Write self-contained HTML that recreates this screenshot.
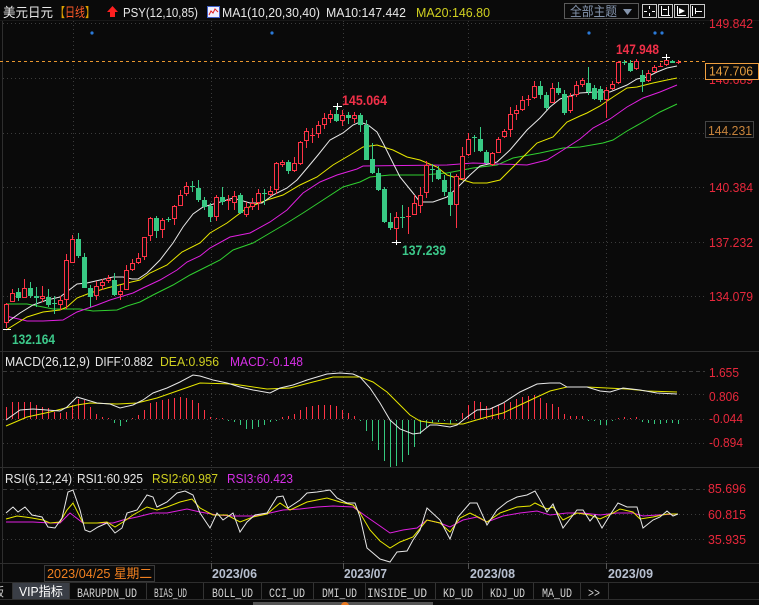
<!DOCTYPE html>
<html><head><meta charset="utf-8"><style>
html,body{margin:0;padding:0;background:#0a0a0a;overflow:hidden;}
svg{display:block;}
text{font-family:"Liberation Sans","Noto Sans CJK SC",sans-serif;}
.mono{font-family:"Liberation Mono","Noto Sans CJK SC",monospace;}
</style></head><body>
<svg width="759" height="605" viewBox="0 0 759 605" xmlns="http://www.w3.org/2000/svg">
<rect width="759" height="605" fill="#0a0a0a"/>

<!-- header -->
<line x1="0" y1="20.5" x2="759" y2="20.5" stroke="#181818"/>
<text x="3" y="17" font-size="13" fill="#e8e8e8" textLength="50" lengthAdjust="spacingAndGlyphs">美元日元</text>
<text x="55" y="17" font-size="13" textLength="40" lengthAdjust="spacingAndGlyphs"><tspan fill="#e0a000">【</tspan><tspan fill="#ff5a28">日线</tspan><tspan fill="#e0a000">】</tspan></text>
<polygon points="112.5,6 118,12 115,12 115,17 110,17 110,12 107,12" fill="#ff2020"/>
<text x="123" y="17" font-size="13" fill="#e8e8e8" textLength="75" lengthAdjust="spacingAndGlyphs">PSY(12,10,85)</text>
<rect x="207.5" y="6.5" width="12" height="11" fill="#f0f0ff" stroke="#4060c8"/>
<polyline points="209,15 211,11 213,13 215,9 218,12" fill="none" stroke="#e02020"/>
<text x="222" y="17" font-size="13" fill="#e8e8e8" textLength="98" lengthAdjust="spacingAndGlyphs">MA1(10,20,30,40)</text>
<text x="326" y="17" font-size="13" fill="#e8e8e8" textLength="80" lengthAdjust="spacingAndGlyphs">MA10:147.442</text>
<text x="416" y="17" font-size="13" fill="#d0d020" textLength="74" lengthAdjust="spacingAndGlyphs">MA20:146.80</text>

<rect x="564.5" y="3.5" width="74" height="15" fill="none" stroke="#5a5a5a"/>
<text x="570" y="16" font-size="13" fill="#8494ac" textLength="47" lengthAdjust="spacingAndGlyphs">全部主题</text>
<polygon points="623,9 632,9 627.5,15" fill="#8494ac"/>
<g fill="none" stroke="#c8c8c8">
<rect x="642.5" y="4.5" width="14" height="13"/>
<rect x="658.5" y="4.5" width="14" height="13"/>
<rect x="674.5" y="4.5" width="14" height="13"/>
<rect x="690.5" y="4.5" width="14" height="13"/>
</g>
<g stroke="#ffffff" fill="none">
<path d="M649.5 6v3M649.5 13v3M644 11.5h3M652 11.5h3"/>
<path d="M661.5 6v10M668.5 6v10M661 15.5h9M663 9.5h4"/>
<path d="M677.5 6v10M677 15.5h9"/>
<path d="M692.5 6v10M695.5 8v6M695 11.5h7"/>
</g>
<polygon points="679,8 685,11 679,14" fill="#ffffff"/>

<!-- grid -->
<g stroke="#3c3c3c" stroke-dasharray="1 3" fill="none">
<path d="M3 23.5H705M3 78.5H705M3 133.5H705M3 187.5H705M3 242.5H705M3 296.5H705"/>
<path d="M3 394.5H705M3 419.5H705M3 443.5H705"/>
<path d="M3 514.5H705M3 539.5H705"/>
<path d="M73.5 21V563M211.5 21V563M343.5 21V563M468.5 21V563M606.5 21V563"/>
</g>
<g stroke="#3a3a3a" stroke-dasharray="4 3" fill="none">
<path d="M3 371.5H705M3 489.5H705"/>
</g>

<!-- separators -->
<g stroke="#2e2e2e" fill="none">
<path d="M0 351.5H759M0 467.5H759M0 563.5H759M0 582.5H759M0 599.5H759"/>
<path d="M2.5 21V582"/>
</g>

<!-- last price dashed line -->
<path d="M0 61.5H705" stroke="#e8962e" stroke-dasharray="3 3"/>

<!-- MA lines -->
<g fill="none" stroke-width="1">
<polyline stroke="#30d030" points="6,304 27,304 43,307 53,309 80,309 93,311 117,310 127,306 140,302 153,295 173,285 190,275 200,270 220,260 233,250 253,243 270,233 287,223 303,213 323,200 343,187 360,182 370,177 390,175 423,175 447,173 473,168 497,165 513,158 540,153 563,148 580,147 603,143 613,140 627,131 643,122 660,112 677,104"/>
<polyline stroke="#e020e0" points="6,316 27,321 43,321 63,320 77,312 97,305 110,300 133,293 143,288 160,280 177,270 187,262 200,256 210,248 230,237 250,233 270,222 287,210 303,193 320,182 337,175 357,169 363,166 447,165 473,163 527,165 547,160 563,150 580,139 593,128 610,119 627,107 643,98 660,92 677,85"/>
<polyline stroke="#e8e800" points="6,330 27,317 43,312 60,310 67,307 77,298 90,293 107,288 127,283 140,280 150,273 167,265 182,252 200,243 210,233 227,223 247,208 267,200 283,195 300,185 317,177 333,165 350,155 363,147 377,145 393,150 407,157 420,160 437,167 447,175 460,179 473,183 487,183 500,180 510,170 523,157 537,143 553,137 567,122 580,116 587,113 600,106 613,97 627,88 637,87 653,83 667,80 677,78"/>
<polyline stroke="#e8e8e8" points="6,323 20,313 33,305 47,300 60,297 77,284 87,283 100,280 113,277 123,277 132,279 138,279 147,273 160,260 173,243 183,227 193,214 203,207 217,203 233,198 250,203 262,203 273,195 287,188 297,180 308,167 318,155 330,140 343,133 353,125 360,122 368,125 377,132 384,145 390,157 400,177 413,193 420,202 433,202 447,197 457,188 470,175 480,166 497,162 510,150 527,130 540,118 550,107 560,99 580,93 595,92 610,92 627,85 637,79 647,77 657,72 667,68 677,66"/>
</g>

<!-- candles -->
<path fill="none" stroke="#ff3346" d="M6.5 303V328M12.5 289V302M24.5 279V298M42.5 286V302M60.5 296V310M66.5 254V309M72.5 235V263M96.5 281V300M102.5 279V290M108.5 275V283M120.5 285V300M126.5 265V290M132.5 259V271M138.5 253V264M144.5 237V260M150.5 217V241M162.5 218V238M174.5 205V225M180.5 190V206M186.5 182V196M216.5 195V221M228.5 195V210M234.5 191V210M246.5 202V217M252.5 198V210M258.5 189V210M270.5 186V196M276.5 162V194M282.5 160V167M294.5 157V172M300.5 141V165M306.5 128V148M312.5 128V143M318.5 121V138M324.5 113V129M330.5 110V123M342.5 110V126M354.5 112V123M396.5 212V241M408.5 207V234M414.5 195V215M420.5 187V213M426.5 161V198M456.5 174V228M462.5 147V180M468.5 133V156M492.5 152V166M498.5 137V153M504.5 129V138M510.5 107V137M516.5 105V120M522.5 96V111M528.5 95V106M534.5 81V99M552.5 83V103M570.5 93V113M576.5 81V97M582.5 78V87M606.5 87V118M612.5 81V90M618.5 61V84M636.5 59V70M648.5 70V82M654.5 65V73M660.5 63V67M666.5 57V66M678.5 60V64"/>
<path fill="#0a0a0a" stroke="#ff3346" d="M4.5 304.5h4v18h-4zM10.5 293.5h4v8h-4zM22.5 288.5h4v9h-4zM40.5 296.5h4v2h-4zM58.5 300.5h4v4h-4zM64.5 260.5h4v39h-4zM70.5 239.5h4v23h-4zM94.5 286.5h4v9h-4zM100.5 282.5h4v3h-4zM106.5 278.5h4v2h-4zM118.5 291.5h4v3h-4zM124.5 270.5h4v19h-4zM130.5 263.5h4v6h-4zM136.5 258.5h4v4h-4zM142.5 237.5h4v19h-4zM148.5 218.5h4v17h-4zM160.5 220.5h4v9h-4zM172.5 206.5h4v12h-4zM178.5 195.5h4v10h-4zM184.5 186.5h4v7h-4zM214.5 197.5h4v19h-4zM232.5 196.5h4v6h-4zM244.5 207.5h4v7h-4zM250.5 203.5h4v3h-4zM256.5 193.5h4v9h-4zM268.5 191.5h4v3h-4zM274.5 163.5h4v26h-4zM280.5 162.5h4v2h-4zM292.5 163.5h4v7h-4zM298.5 142.5h4v21h-4zM304.5 131.5h4v9h-4zM316.5 125.5h4v8h-4zM322.5 118.5h4v6h-4zM328.5 114.5h4v4h-4zM340.5 115.5h4v5h-4zM352.5 115.5h4v3h-4zM394.5 217.5h4v11h-4zM412.5 203.5h4v11h-4zM418.5 195.5h4v10h-4zM424.5 165.5h4v27h-4zM454.5 176.5h4v28h-4zM460.5 156.5h4v22h-4zM466.5 139.5h4v15h-4zM490.5 153.5h4v11h-4zM496.5 139.5h4v13h-4zM502.5 131.5h4v5h-4zM508.5 114.5h4v15h-4zM514.5 110.5h4v3h-4zM520.5 100.5h4v9h-4zM532.5 86.5h4v11h-4zM550.5 88.5h4v14h-4zM568.5 96.5h4v14h-4zM574.5 85.5h4v9h-4zM580.5 80.5h4v4h-4zM604.5 90.5h4v9h-4zM610.5 84.5h4v4h-4zM616.5 62.5h4v20h-4zM634.5 61.5h4v7h-4zM646.5 73.5h4v7h-4zM652.5 67.5h4v4h-4zM664.5 60.5h4v4h-4z"/>
<path fill="none" stroke="#ff3346" d="M226 200.5h5M310 135.5h5M406 216.5h5M526 99.5h5M658 66.5h5M676 62.5h5"/>
<path fill="none" stroke="#38c984" d="M18.5 288V301M30.5 282V298M36.5 287V307M48.5 289V307M54.5 296V314M78.5 233V258M84.5 253V288M90.5 285V307M114.5 273V296M156.5 216V238M168.5 217V222M192.5 181V192M198.5 180V202M204.5 197V210M210.5 203V222M222.5 187V205M240.5 193V214M264.5 189V205M288.5 160V174M336.5 106V122M348.5 112V124M360.5 113V132M366.5 120V160M372.5 143V174M378.5 168V191M384.5 187V223M390.5 213V230M402.5 205V228M432.5 164V182M438.5 166V180M444.5 175V196M450.5 173V216M474.5 135V152M480.5 127V152M486.5 150V164M540.5 81V99M546.5 92V110M558.5 82V95M564.5 90V115M588.5 67V95M594.5 85V100M600.5 86V102M624.5 60V65M630.5 60V72M642.5 70V92M672.5 60V63M52 303.5h5M166 219.5h5M190 186.5h5M262 193.5h5M400 217.5h5M430 169.5h5M472 137.5h5M622 62.5h5"/>
<path fill="#38c984" d="M16 292h5v6h-5zM28 288h5v8h-5zM34 296h5v2h-5zM46 297h5v8h-5zM76 239h5v17h-5zM82 257h5v31h-5zM88 288h5v9h-5zM112 280h5v15h-5zM154 218h5v13h-5zM196 188h5v12h-5zM202 200h5v7h-5zM208 206h5v11h-5zM220 197h5v5h-5zM238 195h5v18h-5zM286 162h5v9h-5zM334 114h5v7h-5zM346 115h5v3h-5zM358 115h5v10h-5zM364 125h5v35h-5zM370 159h5v14h-5zM376 173h5v17h-5zM382 189h5v33h-5zM388 222h5v6h-5zM436 170h5v9h-5zM442 180h5v12h-5zM448 192h5v13h-5zM478 139h5v12h-5zM484 152h5v11h-5zM538 86h5v9h-5zM544 95h5v13h-5zM556 88h5v5h-5zM562 94h5v19h-5zM586 83h5v9h-5zM592 88h5v11h-5zM598 89h5v11h-5zM628 63h5v8h-5zM640 75h5v7h-5zM670 61h5v2h-5z"/>

<!-- high/low markers -->
<g stroke="#ffffff" fill="none">
<path d="M333 106.5h9M337.5 103v7"/>
<path d="M392 242.5h9M396.5 240v5"/>
<path d="M3 329.5h8"/>
<path d="M662 57.5h8M666.5 54v6"/>
</g>
<text x="342" y="105" font-size="14" font-weight="bold" fill="#f03048" textLength="45" lengthAdjust="spacingAndGlyphs">145.064</text>
<text x="402" y="255" font-size="14" font-weight="bold" fill="#3cc88a" textLength="44" lengthAdjust="spacingAndGlyphs">137.239</text>
<text x="12" y="344" font-size="14" font-weight="bold" fill="#3cc88a" textLength="43" lengthAdjust="spacingAndGlyphs">132.164</text>
<text x="616" y="54" font-size="14" font-weight="bold" fill="#f03048" textLength="43" lengthAdjust="spacingAndGlyphs">147.948</text>

<!-- blue dots -->
<g fill="#2b7ad8">
<circle cx="92" cy="33" r="1.6"/><circle cx="272" cy="33" r="1.6"/><circle cx="589" cy="33" r="1.6"/><circle cx="655" cy="33" r="1.6"/><circle cx="662" cy="33" r="1.6"/>
</g>

<!-- right axis main -->
<g font-size="13" fill="#e8283c">
<text x="709" y="28" textLength="44" lengthAdjust="spacingAndGlyphs">149.842</text>
<text x="709" y="84" textLength="44" lengthAdjust="spacingAndGlyphs">146.689</text>
<text x="709" y="192" textLength="44" lengthAdjust="spacingAndGlyphs">140.384</text>
<text x="709" y="247" textLength="44" lengthAdjust="spacingAndGlyphs">137.232</text>
<text x="709" y="301" textLength="44" lengthAdjust="spacingAndGlyphs">134.079</text>
</g>
<rect x="705.5" y="63.5" width="53" height="16" fill="#0a0a0a" stroke="#f0a040"/>
<text x="709" y="75.5" font-size="13" fill="#e8a040" textLength="44" lengthAdjust="spacingAndGlyphs">147.706</text>
<rect x="705.5" y="121.5" width="48" height="16" fill="#0a0a0a" stroke="#444"/>
<text x="708" y="135" font-size="13" fill="#c8843c" textLength="44" lengthAdjust="spacingAndGlyphs">144.231</text>

<!-- MACD panel -->
<text x="5" y="366" font-size="13" fill="#e8e8e8" textLength="85" lengthAdjust="spacingAndGlyphs">MACD(26,12,9)</text>
<text x="95" y="366" font-size="13" fill="#e8e8e8" textLength="58" lengthAdjust="spacingAndGlyphs">DIFF:0.882</text>
<text x="160" y="366" font-size="13" fill="#d0d020" textLength="59" lengthAdjust="spacingAndGlyphs">DEA:0.956</text>
<text x="230" y="366" font-size="13" fill="#d830e8" textLength="73" lengthAdjust="spacingAndGlyphs">MACD:-0.148</text>

<path fill="none" stroke="#ff3346" d="M6.5 419V407M12.5 419V402M18.5 419V402M24.5 419V402M30.5 419V402M36.5 419V405M42.5 419V407M48.5 419V408M54.5 419V412M60.5 419V413M66.5 419V412M72.5 419V405M78.5 419V399M84.5 419V400M90.5 419V407M96.5 419V414M102.5 419V417M108.5 419V418M132.5 419V418M138.5 419V415M144.5 419V410M150.5 419V403M156.5 419V402M162.5 419V400M168.5 419V399M174.5 419V398M180.5 419V397M186.5 419V398M192.5 419V400M198.5 419V403M204.5 419V410M210.5 419V417M216.5 419V418M222.5 419V418M282.5 419V417M288.5 419V416M294.5 419V414M300.5 419V410M306.5 419V407M312.5 419V406M318.5 419V405M324.5 419V405M330.5 419V405M336.5 419V406M342.5 419V410M348.5 419V413M354.5 419V416M462.5 419V413M468.5 419V405M474.5 419V401M480.5 419V402M486.5 419V406M492.5 419V407M498.5 419V405M504.5 419V403M510.5 419V402M516.5 419V399M522.5 419V397M528.5 419V396M534.5 419V395M540.5 419V398M546.5 419V403M552.5 419V404M558.5 419V407M564.5 419V414M570.5 419V416M576.5 419V416M582.5 419V416M618.5 419V418M624.5 419V417M630.5 419V418M636.5 419V417"/>
<path fill="none" stroke="#35c97f" d="M114.5 420V423M120.5 420V426M126.5 420V422M228.5 420V421M234.5 420V422M240.5 420V425M246.5 420V429M252.5 420V429M258.5 420V427M264.5 420V425M270.5 420V422M276.5 420V421M360.5 420V421M366.5 420V431M372.5 420V441M378.5 420V450M384.5 420V461M390.5 420V467M396.5 420V466M402.5 420V462M408.5 420V455M414.5 420V447M420.5 420V434M426.5 420V427M432.5 420V423M438.5 420V422M444.5 420V421M450.5 420V424M456.5 420V421M588.5 420V421M594.5 420V421M600.5 420V425M606.5 420V425M612.5 420V421M642.5 420V422M648.5 420V423M654.5 420V424M660.5 420V424M666.5 420V423M672.5 420V423M678.5 420V424"/>
<polyline fill="none" stroke="#e8e800" points="6,426 27,417 50,412 77,405 90,403 117,404 137,403 157,398 180,390 200,383 233,384 267,389 290,388 313,382 333,377 360,377 373,382 387,392 400,405 410,415 420,421 433,423 450,424 463,424 473,421 487,417 503,413 520,405 537,397 550,391 567,387 587,387 607,388 627,389 647,391 677,392"/>
<polyline fill="none" stroke="#e8e8e8" points="6,420 20,410 33,409 47,410 60,411 67,407 77,397 87,400 97,403 110,404 120,408 133,405 143,400 153,393 167,388 180,382 193,375 200,376 213,380 227,383 240,387 253,390 270,393 280,388 293,385 307,380 327,374 340,373 353,374 360,377 370,388 380,403 390,420 400,429 413,434 420,433 430,425 437,425 450,427 457,425 467,417 477,410 490,409 503,403 520,392 537,384 550,383 560,383 567,387 587,387 600,391 610,392 623,388 640,390 657,393 677,394"/>
<g font-size="13" fill="#e8283c">
<text x="709" y="377" textLength="30" lengthAdjust="spacingAndGlyphs">1.655</text>
<text x="709" y="401" textLength="30" lengthAdjust="spacingAndGlyphs">0.806</text>
<text x="709" y="423" textLength="34" lengthAdjust="spacingAndGlyphs">-0.044</text>
<text x="709" y="447" textLength="34" lengthAdjust="spacingAndGlyphs">-0.894</text>
</g>

<!-- RSI panel -->
<text x="5" y="483" font-size="13" fill="#e8e8e8" textLength="67" lengthAdjust="spacingAndGlyphs">RSI(6,12,24)</text>
<text x="77" y="483" font-size="13" fill="#e8e8e8" textLength="66" lengthAdjust="spacingAndGlyphs">RSI1:60.925</text>
<text x="152" y="483" font-size="13" fill="#d0d020" textLength="66" lengthAdjust="spacingAndGlyphs">RSI2:60.987</text>
<text x="227" y="483" font-size="13" fill="#d830e8" textLength="66" lengthAdjust="spacingAndGlyphs">RSI3:60.423</text>
<polyline fill="none" stroke="#e020e0" points="6,522 33,522 50,523 60,523 70,513 83,523 100,523 113,523 123,520 137,517 153,513 167,513 187,509 200,512 217,515 233,516 253,516 270,513 283,510 300,509 317,507 333,506 353,507 367,517 380,526 390,533 403,530 417,528 427,520 440,523 450,527 463,520 477,517 487,522 503,516 520,513 537,511 550,515 567,513 583,513 600,515 617,513 633,513 643,516 657,515 678,514"/>
<polyline fill="none" stroke="#e8e800" points="6,519 17,516 25,517 32,518 43,520 50,523 60,522 67,510 73,503 83,523 97,523 107,522 115,527 123,522 133,515 147,507 157,510 167,507 180,502 192,499 200,508 213,515 227,515 240,522 253,517 267,514 280,503 290,510 307,502 327,498 340,502 353,505 360,513 370,530 380,541 390,548 400,542 413,537 427,520 440,523 450,532 460,518 470,513 480,518 487,522 500,513 517,507 530,506 535,503 547,509 553,507 563,520 577,513 590,515 600,519 613,513 620,509 633,512 640,519 653,517 667,514 678,514"/>
<polyline fill="none" stroke="#e8e8e8" points="6,513 13,507 18,512 25,507 32,515 42,517 48,527 55,528 62,518 68,492 73,490 80,510 85,530 90,532 98,527 107,523 115,533 122,528 127,513 137,510 147,495 153,497 157,507 167,502 177,493 185,491 193,495 200,513 210,528 217,513 223,520 233,513 240,532 247,522 255,515 267,513 277,497 283,496 288,508 300,500 307,493 317,492 330,490 337,498 347,503 355,503 360,517 367,548 380,559 390,562 397,552 407,551 413,540 420,530 427,508 440,520 450,539 458,517 470,503 477,503 487,525 497,510 507,502 517,497 527,495 535,491 547,512 553,504 563,528 577,510 583,510 590,521 595,515 602,528 610,515 618,503 627,507 637,507 643,528 653,520 660,517 667,511 673,516 678,514"/>
<g font-size="13" fill="#e8283c">
<text x="708" y="493" textLength="38" lengthAdjust="spacingAndGlyphs">85.696</text>
<text x="708" y="519" textLength="38" lengthAdjust="spacingAndGlyphs">60.815</text>
<text x="708" y="544" textLength="38" lengthAdjust="spacingAndGlyphs">35.935</text>
</g>

<!-- date axis -->
<g stroke="#555" fill="none"><path d="M211.5 563V569M343.5 563V569M468.5 563V569M606.5 563V569"/></g>
<rect x="44.5" y="565.5" width="110" height="16" fill="#0a0a0a" stroke="#3a3a3a"/>
<text x="47" y="578" font-size="13" fill="#f08020" textLength="105" lengthAdjust="spacingAndGlyphs">2023/04/25 星期二</text>
<g font-size="13" font-weight="bold" fill="#b8c0d0">
<text x="212" y="578" textLength="45" lengthAdjust="spacingAndGlyphs">2023/06</text>
<text x="344" y="578" textLength="43" lengthAdjust="spacingAndGlyphs">2023/07</text>
<text x="470" y="578" textLength="45" lengthAdjust="spacingAndGlyphs">2023/08</text>
<text x="608" y="578" textLength="45" lengthAdjust="spacingAndGlyphs">2023/09</text>
</g>

<!-- tab bar -->
<rect x="12" y="583" width="57" height="16" fill="#3a3e46"/>
<g stroke="#333" fill="none">
<path d="M12.5 583V599M69.5 583V599M146.5 583V599M203.5 583V599M261.5 583V599M313.5 583V599M365.5 583V599M435.5 583V599M482.5 583V599M533.5 583V599M580.5 583V599M608.5 583V599"/>
</g>
<text x="-8" y="596" font-size="12" fill="#c8c8c8">版</text>
<text x="19" y="596" font-size="13" fill="#ffffff" textLength="44" lengthAdjust="spacingAndGlyphs">VIP指标</text>
<g class="mono" font-size="13" fill="#cfcfcf">
<text class="mono" x="77" y="597" textLength="60" lengthAdjust="spacingAndGlyphs">BARUPDN_UD</text>
<text class="mono" x="154" y="597" textLength="33" lengthAdjust="spacingAndGlyphs">BIAS_UD</text>
<text class="mono" x="212" y="597" textLength="41" lengthAdjust="spacingAndGlyphs">BOLL_UD</text>
<text class="mono" x="269" y="597" textLength="36" lengthAdjust="spacingAndGlyphs">CCI_UD</text>
<text class="mono" x="322" y="597" textLength="35" lengthAdjust="spacingAndGlyphs">DMI_UD</text>
<text class="mono" x="367" y="597" textLength="60" lengthAdjust="spacingAndGlyphs">INSIDE_UD</text>
<text class="mono" x="443" y="597" textLength="30" lengthAdjust="spacingAndGlyphs">KD_UD</text>
<text class="mono" x="490" y="597" textLength="35" lengthAdjust="spacingAndGlyphs">KDJ_UD</text>
<text class="mono" x="542" y="597" textLength="30" lengthAdjust="spacingAndGlyphs">MA_UD</text>
<text class="mono" x="588" y="597" textLength="12" lengthAdjust="spacingAndGlyphs">&gt;&gt;</text>
</g>
<rect x="253" y="602" width="180" height="3" fill="#555"/>
<circle cx="345" cy="606" r="4" fill="#e87820"/>
</svg>
</body></html>
